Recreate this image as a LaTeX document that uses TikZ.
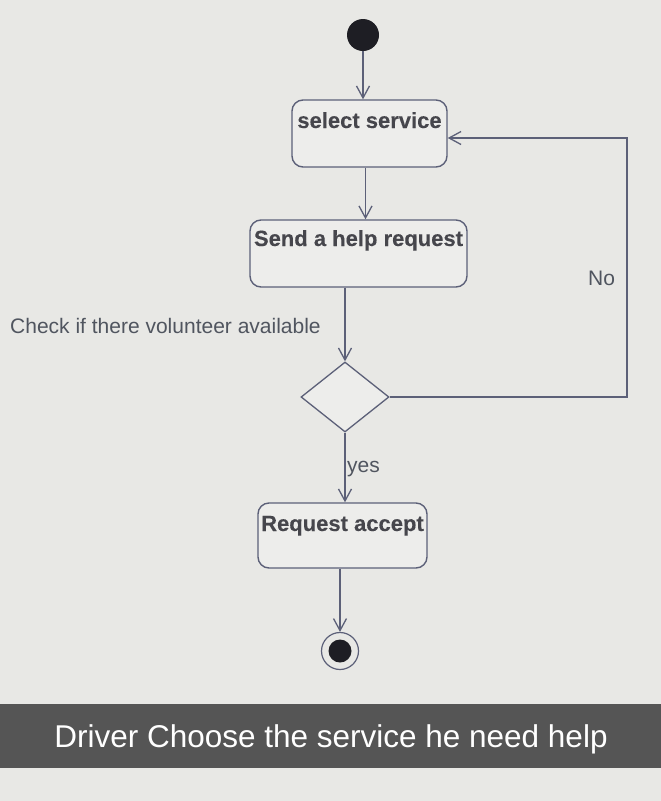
\documentclass[tikz,border=0pt]{standalone}
\usepackage{fontspec}
\setmainfont{Liberation Sans}
\newfontfamily\boxfont{Liberation Sans}[FakeBold=0.15]
\usetikzlibrary{arrows.meta,shapes.geometric}
\definecolor{bg}{HTML}{E8E8E5}
\definecolor{boxfill}{HTML}{EDEDEB}
\definecolor{linec}{HTML}{5C6078}
\definecolor{boxtext}{HTML}{46464C}
\definecolor{sidetext}{HTML}{50555F}
\definecolor{band}{HTML}{555555}
\definecolor{dot}{HTML}{1E1E24}
\begin{document}
\begin{tikzpicture}[x=1pt,y=-1pt,
  actbox/.style={draw=linec, line width=1.4pt, fill=boxfill, rectangle, rounded corners=11pt,
    inner xsep=0pt, inner ysep=0pt, text=boxtext, font=\boxfont\fontsize{22}{27}\selectfont\bfseries},
  decision/.style={draw=linec, line width=1.3pt, fill=boxfill, diamond, inner sep=0pt,
    minimum width=88pt, minimum height=70pt},
  startnode/.style={circle, fill=dot, minimum size=32pt, inner sep=0pt},
  endouter/.style={circle, draw=linec, line width=1.2pt, fill=bg, minimum size=37pt, inner sep=0pt},
  endinner/.style={circle, fill=dot, minimum size=23pt, inner sep=0pt},
  flow/.style={draw=linec, line width=1.3pt, -{Straight Barb[length=12pt,width=13pt,line width=1.3pt]}},
  sidelabel/.style={text=sidetext, inner sep=0pt, anchor=base west, font=\fontsize{21}{25}\selectfont},
  caption/.style={text=white, inner sep=0pt, anchor=base, font=\fontsize{31.5}{38}\selectfont}
]
\fill[bg] (0,0) rectangle (661,801);
\useasboundingbox (0,0) rectangle (661,801);
\fill[band] (0,704) rectangle (661,768);

\node[startnode] (start) at (363,35) {};
\node[actbox, minimum width=155pt, text height=28pt, text depth=39pt] (sel) at (369.5,133.5) {select service};
\node[actbox, minimum width=217pt, text height=26pt, text depth=41pt] (send) at (358.5,253.5) {Send a help request};
\node[decision] (dia) at (345,397) {};
\node[actbox, minimum width=169pt, text height=28pt, text depth=37pt] (req) at (342.5,535.5) {Request accept};
\node[endouter] (fin) at (340,651) {};
\node[endinner] (finin) at (fin) {};

\node[sidelabel] (check) at (10,333) {Check if there volunteer available};
\node[sidelabel] (yes) at (347,472) {yes};
\node[sidelabel] (no) at (588,285) {No};
\node[caption] (cap) at (331,747) {Driver Choose the service he need help};

\draw[flow] (start.south) -- (start.south |- sel.north);
\draw[flow] ([xshift=-4pt]sel.south) -- ([xshift=-4pt]sel.south |- send.north);
\draw[flow] (dia.north |- send.south) -- (dia.north);
\draw[flow] (dia.south) -- (dia.south |- req.north);
\draw[flow] (fin.north |- req.south) -- (fin.north);

\coordinate (cr) at (627,138);
\draw[flow] (dia.east) -- (dia.east -| cr) -- (cr) -- (cr -| sel.east);
\end{tikzpicture}
\end{document}
